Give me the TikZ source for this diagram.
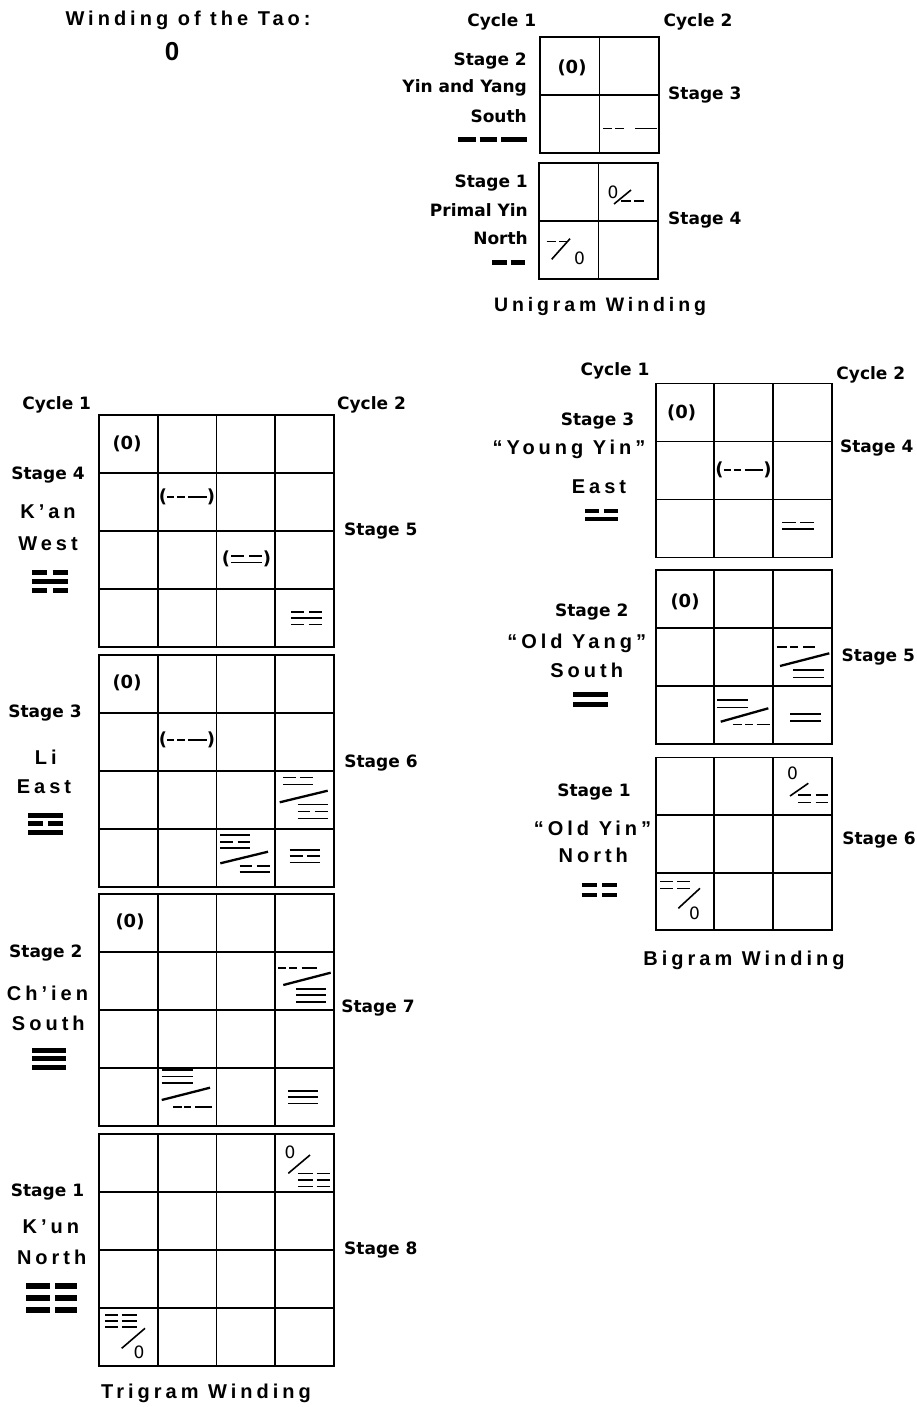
\documentclass[tikz,border=0pt]{standalone}
\usepackage{fontspec}
\setmainfont{DejaVu Sans}
\newfontfamily\widefont{Liberation Sans}[LetterSpace=20]
\newfontfamily\libfont{Liberation Sans}
\newcommand\yangln[4]{\draw[line width=#4] (#1,#2) -- ({#1+#3},#2);}
\newcommand\yinln[4]{\draw[line width=#4] (#1,#2) -- ({#1+0.425*#3},#2) ({#1+0.575*#3},#2) -- ({#1+#3},#2);}
\newcommand\cellgrid[6]{% x0,y0,cellw,cellh,n,inner list
  \draw[gridl] (#1,#2) rectangle ({#1+#5*#3},{#2+#5*#4});
  \foreach \i in {#6} {
    \draw[gridl] ({#1+\i*#3},#2) -- ({#1+\i*#3},{#2+#5*#4});
    \draw[gridl] (#1,{#2+\i*#4}) -- ({#1+#5*#3},{#2+\i*#4});
  }
}
\newcommand\pdash[2]{% left paren centre x, y
  \node[cellt] at (#1,#2) {(};
  \draw[thinl] ({#1+4},#2) -- ({#1+11},#2) ({#1+14},#2) -- ({#1+21.5},#2) ({#1+25},#2) -- ({#1+43.5},#2);
  \node[cellt] at ({#1+48},#2) {)};
}
\tikzset{
  lbl/.style={font=\fontsize{17}{19}\selectfont\bfseries, inner sep=0pt},
  wide/.style={font=\widefont\fontsize{20}{22}\selectfont\bfseries, inner sep=0pt},
  cellt/.style={font=\fontsize{18}{20}\selectfont\bfseries, inner sep=0pt},
  zero/.style={font=\fontsize{17}{19}\selectfont, inner sep=0pt},
  gridl/.style={line width=1.9pt},
  thinl/.style={line width=1.6pt},
  slashl/.style={line width=2.3pt},
}
\begin{document}
\begin{tikzpicture}[x=1pt,y=-1pt]
\useasboundingbox (0,0) rectangle (916,1407);
\fill[white] (0,0) rectangle (916,1407);

% ---------- title
\node[wide] (title) at (188,20) {Winding of the Tao:};
\node[font=\libfont\fontsize{26}{28}\selectfont\bfseries, inner sep=0pt] (tao) at (172,52) {0};

% ---------- Unigram winding
\cellgrid{540}{37}{59.5}{58}{2}{1}
\cellgrid{539}{163}{59.5}{58}{2}{1}
\node[lbl] (uc1) at (501.7,22) {Cycle 1};
\node[lbl] (uc2) at (698,22) {Cycle 2};
\node[lbl, anchor=east] (us2) at (527,61) {Stage 2};
\node[lbl, anchor=east] (uyy) at (527,88) {Yin and Yang};
\node[lbl, anchor=east] (usouth) at (527,116) {South};
\draw[line width=5pt] (458,140) -- (476,140) (479.5,140) -- (497,140) (501,140) -- (527,140);
\node[lbl, anchor=east] (us1) at (528,183) {Stage 1};
\node[lbl, anchor=east] (upy) at (528,210) {Primal Yin};
\node[lbl, anchor=east] (unorth) at (528,238) {North};
\draw[line width=5pt] (492,262) -- (506.7,262) (510.7,262) -- (525,262);
\node[lbl, anchor=west] (us3) at (668,95) {Stage 3};
\node[lbl, anchor=west] (us4) at (668,220) {Stage 4};
\node[cellt] (uz) at (572,68) {(0)};
\draw[line width=1.5pt] (603,128.5) -- (611.5,128.5) (615,128.5) -- (623.5,128.5) (635,128.5) -- (656.5,128.5);
\node[zero] (uz1) at (613,192) {0};
\draw[thinl] (614,204) -- (631,190);
\draw[line width=1.5pt] (621,201) -- (631,201) (634,201) -- (644,201);
\draw[line width=1.5pt] (546.7,241.7) -- (556,241.7) (559,241.7) -- (568.3,241.7);
\draw[thinl] (551.7,259.3) -- (570,238.7);
\node[zero] (uz2) at (579.5,258.5) {0};
\node[wide, font=\widefont\fontsize{19.5}{22}\selectfont\bfseries] (utitle) at (600,306) {Unigram Winding};

% ---------- Trigram winding
\cellgrid{99}{415}{58.75}{58}{4}{1,2,3}
\cellgrid{99}{655}{58.75}{58}{4}{1,2,3}
\cellgrid{99}{894}{58.75}{58}{4}{1,2,3}
\cellgrid{99}{1134}{58.75}{58}{4}{1,2,3}
\node[lbl] (tc1) at (56.7,405) {Cycle 1};
\node[lbl] (tc2) at (371.5,405) {Cycle 2};
% block 1
\node[lbl] (ts4) at (48,475) {Stage 4};
\node[wide] (tkan) at (48,512) {K’an};
\node[wide] (twest) at (48,544) {West};
\yinln{32}{572}{36}{5}
\yangln{32}{581}{36}{5}
\yinln{32}{590.5}{36}{5}
\node[lbl] (ts5) at (380.8,530.7) {Stage 5};
\node[cellt] (tz1) at (127,444) {(0)};
\pdash{163}{497}
\node[cellt] (tp1) at (226,559) {(};
\yinln{231}{556}{31}{1.6}
\yangln{231}{562.5}{31}{1.6}
\node[cellt] (tp2) at (267,559) {)};
\yinln{291}{611.7}{31}{1.6}
\yangln{291}{618}{31}{1.6}
\yinln{291}{624.3}{31}{1.6}
% block 2
\node[lbl] (ts3) at (45,713) {Stage 3};
\node[wide] (tli) at (45.8,757) {Li};
\node[wide] (teast) at (44,787) {East};
\yangln{28}{815}{35}{5}
\yinln{28}{823.5}{35}{5}
\yangln{28}{832.5}{35}{5}
\node[lbl] (ts6) at (381,763) {Stage 6};
\node[cellt] (tz2) at (127,683) {(0)};
\pdash{163}{740}
\yinln{283}{777.3}{30}{1.6}
\yangln{283}{784.3}{30}{1.6}
\draw[slashl] (279.7,802.3) -- (327.7,790.7);
\yangln{297.7}{804.3}{30}{1.6}
\yinln{297.7}{811.3}{30}{1.6}
\yangln{297.7}{818.3}{30}{1.6}
\yangln{220.3}{835}{30}{1.6}
\yinln{220.3}{841.7}{30}{1.6}
\yangln{220.3}{848}{30}{1.6}
\draw[slashl] (220.3,863.3) -- (268,851.7);
\yinln{239.7}{865.7}{30}{1.6}
\yangln{239.7}{871.7}{30}{1.6}
\yangln{289.7}{849.7}{30.6}{1.6}
\yinln{289.7}{856}{30.6}{1.6}
\yangln{289.7}{862.3}{30.6}{1.6}
% block 3
\node[lbl] (ts2) at (45.8,953) {Stage 2};
\node[wide] (tchien) at (47.5,993) {Ch’ien};
\node[wide] (tsouth) at (48.3,1023) {South};
\yangln{32}{1050}{34}{5}
\yangln{32}{1058.5}{34}{5}
\yangln{32}{1067.5}{34}{5}
\node[lbl] (ts7) at (378,1008) {Stage 7};
\node[cellt] (tz3) at (130,922) {(0)};
\draw[thinl] (278.3,967.7) -- (286,967.7) (289.3,967.7) -- (296.7,967.7) (301.7,967.7) -- (316.7,967.7);
\draw[slashl] (283.3,985) -- (330.7,972.7);
\yangln{296}{988.7}{30}{1.6}
\yangln{296}{995}{30}{1.6}
\yangln{296}{1001.7}{30}{1.6}
\yangln{161.7}{1070}{31}{1.6}
\yangln{161.7}{1076.3}{31}{1.6}
\yangln{161.7}{1082.7}{31}{1.6}
\draw[slashl] (161.7,1100) -- (210,1087.7);
\draw[thinl] (173.3,1106.7) -- (181.7,1106.7) (184,1106.7) -- (191,1106.7) (195,1106.7) -- (211.7,1106.7);
\yangln{288.3}{1091}{30}{1.6}
\yangln{288.3}{1097}{30}{1.6}
\yangln{288.3}{1103.3}{30}{1.6}
% block 4
\node[lbl] (ts1) at (47.5,1192) {Stage 1};
\node[wide] (tkun) at (50.8,1227) {K’un};
\node[wide] (tnorth) at (51.7,1257) {North};
\draw[line width=5.5pt] (26,1286) -- (49.5,1286) (55,1286) -- (77.3,1286)
  (26,1298) -- (49.5,1298) (55,1298) -- (77.3,1298)
  (26,1310) -- (49.5,1310) (55,1310) -- (77.3,1310);
\node[lbl] (ts8) at (380.8,1250) {Stage 8};
\node[zero] (tz4) at (290,1152) {0};
\draw[thinl] (288.3,1173.3) -- (310,1155);
\draw[line width=1.5pt] (298.3,1173.3) -- (313.3,1173.3) (316.7,1173.3) -- (330,1173.3)
  (298.3,1179.8) -- (313.3,1179.8) (316.7,1179.8) -- (330,1179.8)
  (298.3,1186.3) -- (313.3,1186.3) (316.7,1186.3) -- (330,1186.3);
\draw[line width=1.5pt] (105,1315) -- (118.3,1315) (121.7,1315) -- (136.7,1315)
  (105,1321) -- (118.3,1321) (121.7,1321) -- (136.7,1321)
  (105,1327) -- (118.3,1327) (121.7,1327) -- (136.7,1327);
\draw[thinl] (121.7,1348.3) -- (145,1328.3);
\node[zero] (tz5) at (139,1352) {0};
\node[wide] (ttitle) at (206,1393) {Trigram Winding};

% ---------- Bigram winding
\cellgrid{655.7}{383.5}{58.7}{58}{3}{1,2}
\cellgrid{655.7}{570}{58.7}{58}{3}{1,2}
\cellgrid{655.7}{757.5}{58.7}{57.6}{3}{1,2}
\node[lbl] (bc1) at (615,370.7) {Cycle 1};
\node[lbl] (bc2) at (870.8,375) {Cycle 2};
% block 1
\node[lbl] (bs3) at (597.5,421) {Stage 3};
\node[wide] (byy) at (569,449) {“Young Yin”};
\node[wide] (beast) at (599,487) {East};
\yinln{585}{511}{33}{4}
\yangln{585}{518.5}{33}{4}
\node[lbl] (bs4) at (876.7,448) {Stage 4};
\node[cellt] (bz1) at (681.7,413) {(0)};
\pdash{719.5}{470}
\yinln{782}{522.3}{32}{1.6}
\yangln{782}{529}{32}{1.6}
% block 2
\node[lbl] (bs2) at (591.7,611.7) {Stage 2};
\node[wide] (boyang) at (576.7,643) {“Old Yang”};
\node[wide] (bsouth) at (586.7,670) {South};
\yangln{573}{694.7}{35}{4.5}
\yangln{573}{704.7}{35}{4.5}
\node[lbl] (bs5) at (878.3,656.7) {Stage 5};
\node[cellt] (bz2) at (685,601.7) {(0)};
\draw[thinl] (776.7,646.7) -- (786.7,646.7) (790,646.7) -- (798.3,646.7) (803.3,646.7) -- (815,646.7);
\draw[slashl] (780,666) -- (829.3,653.3);
\yangln{793.3}{670}{30.7}{1.6}
\yangln{793.3}{677.3}{30.7}{1.6}
\yangln{717.3}{700}{31}{1.6}
\yangln{717.3}{707.3}{31}{1.6}
\draw[slashl] (720.7,721.7) -- (768.3,708.3);
\draw[thinl] (733.3,724.3) -- (741.7,724.3) (745,724.3) -- (753.3,724.3) (756.7,724.3) -- (770,724.3);
\yangln{790}{714}{30.7}{1.6}
\yangln{790}{720.7}{30.7}{1.6}
% block 3
\node[lbl] (bs1) at (594,791.7) {Stage 1};
\node[wide] (boyin) at (592.5,828) {“Old Yin”};
\node[wide] (bnorth) at (593.3,855) {North};
\yinln{581.7}{885}{35}{4.5}
\yinln{581.7}{895}{35}{4.5}
\node[lbl] (bs6) at (879,840) {Stage 6};
\node[zero] (bz3) at (792.5,773.3) {0};
\draw[thinl] (790,796) -- (808.3,783.3);
\yinln{798.3}{795}{30}{1.5}
\yinln{798.3}{802.3}{30}{1.5}
\yinln{660}{881.7}{30}{1.5}
\yinln{660}{888.3}{30}{1.5}
\draw[thinl] (678.3,908.3) -- (700,888.3);
\node[zero] (bz4) at (694.5,913.5) {0};
\node[wide] (btitle) at (744,960) {Bigram Winding};
\end{tikzpicture}
\end{document}
